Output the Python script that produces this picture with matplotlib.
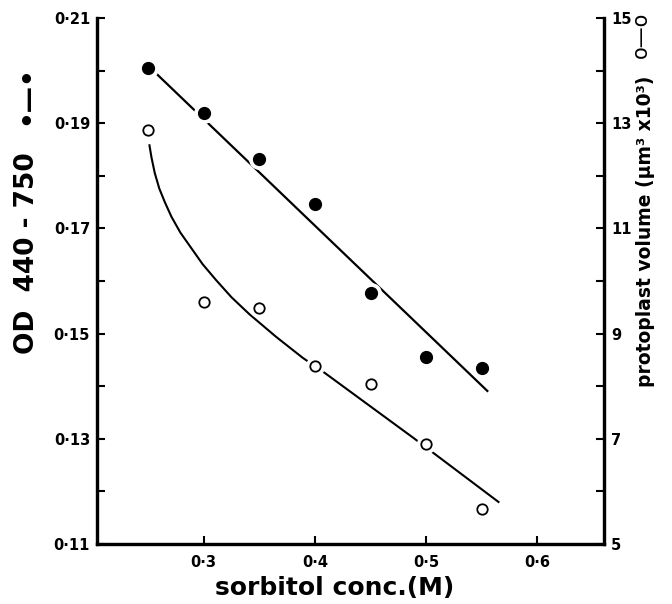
import numpy as np
import matplotlib
matplotlib.use('Agg')
import matplotlib.pyplot as plt

# sorbitol concentrations (M)
sorbitol = [0.25, 0.30, 0.35, 0.40, 0.45, 0.50, 0.55]
# OD 440-750 (filled circles, left axis)
od = [0.2004, 0.1920, 0.1831, 0.1746, 0.1577, 0.1456, 0.1435]
# protoplast volume, um^3 x 10^3 (open circles, right axis)
volume = [12.87, 9.61, 9.48, 8.38, 8.04, 6.90, 5.67]

# drawn fit lines
od_fit_x = [0.257, 0.555]
od_fit_y = [0.1995, 0.1391]
vol_fit_x = [0.2512, 0.253, 0.256, 0.260, 0.265, 0.271, 0.279, 0.288, 0.299,
             0.311, 0.325, 0.341, 0.365, 0.389, 0.409, 0.489, 0.565]
vol_fit_y = [12.58, 12.35, 12.05, 11.76, 11.50, 11.22, 10.92, 10.65, 10.32,
             10.02, 9.69, 9.37, 8.94, 8.54, 8.25, 7.01, 5.80]

x_ticks = [0.3, 0.4, 0.5, 0.6]
x_labels = ['0·3', '0·4', '0·5', '0·6']
od_ticks = [0.11, 0.13, 0.15, 0.17, 0.19, 0.21]
od_labels = ['0·11', '0·13', '0·15', '0·17', '0·19', '0·21']
vol_ticks = [5, 7, 9, 11, 13, 15]

fig = plt.figure(figsize=(6.72, 6.04), dpi=100)
ax = fig.add_axes([0.1443, 0.0993, 0.7547, 0.8709])
ax2 = ax.twinx()

# filled circles + straight line
ax.plot(od_fit_x, od_fit_y, color='black', lw=1.6, zorder=1)
ax.plot(sorbitol, od, 'o', color='white', ms=14, zorder=2)
ax.plot(sorbitol, od, 'o', color='black', ms=8.5, zorder=3)

# open circles + curve
ax2.plot(vol_fit_x, vol_fit_y, color='black', lw=1.5, zorder=1)
ax2.plot(sorbitol, volume, 'o', color='white', ms=13, zorder=2)
ax2.plot(sorbitol, volume, 'o', mfc='white', mec='black', mew=1.3, ms=7.5, zorder=3)

ax.set_xlim(0.204, 0.66)
ax.set_ylim(0.11, 0.21)
ax2.set_ylim(5, 15)

ax.set_xticks(x_ticks)
ax.set_xticklabels(x_labels, fontsize=10.5, fontweight='bold')
ax.set_yticks(od_ticks)
ax.set_yticklabels(od_labels, fontsize=10.5, fontweight='bold')
ax.set_yticks(np.arange(0.12, 0.21, 0.02), minor=True)
ax2.set_yticks(vol_ticks)
ax2.set_yticklabels([str(v) for v in vol_ticks], fontsize=10.5, fontweight='bold')
ax2.set_yticks(np.arange(6, 15, 2), minor=True)

for a in (ax, ax2):
    a.spines['top'].set_visible(False)
    for s in ('left', 'right', 'bottom'):
        a.spines[s].set_linewidth(2.3)
    a.tick_params(which='both', direction='in', width=1.5, length=6)
ax.tick_params(axis='y', pad=5)
ax2.tick_params(axis='y', pad=5)
ax.tick_params(axis='x', pad=8)

# axis titles with their key symbols
fig.text(0.4985, 0.027, 'sorbitol conc.(M)', fontsize=18, fontweight='bold',
         ha='center', va='center')
fig.text(0.040, 0.581, 'OD  440 - 750', fontsize=19, fontweight='bold',
         rotation=90, ha='center', va='center')
fig.text(0.041, 0.843, '•—•', fontsize=19, fontweight='bold',
         rotation=90, ha='center', va='center')
fig.text(0.960, 0.6175, 'protoplast volume (μm³ x10³)', fontsize=13.5,
         fontweight='bold', rotation=90, ha='center', va='center')
fig.text(0.953, 0.942, 'o—o', fontsize=15, rotation=90, ha='center', va='center')

fig.savefig('out.png', dpi=100)
